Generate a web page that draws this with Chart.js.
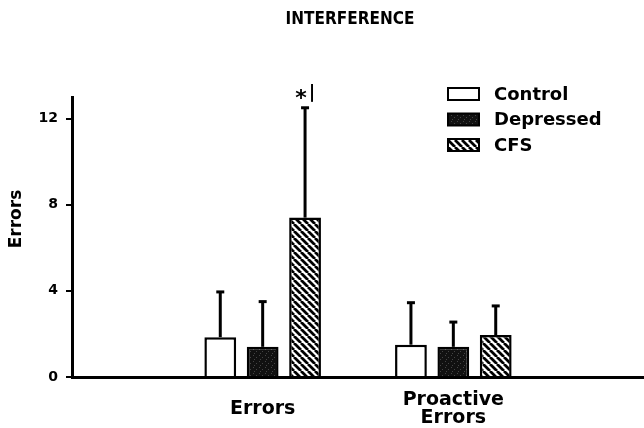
<!DOCTYPE html>
<html>
<head>
<meta charset="utf-8">
<script src="https://cdn.jsdelivr.net/npm/chart.js@4.4.0/dist/chart.umd.min.js"></script>
<style>
  html, body { margin: 0; padding: 0; background: #fff; }
  #wrap { width: 644px; height: 428px; position: relative; overflow: hidden; }
</style>
</head>
<body>
<div id="wrap"><canvas id="interferenceChart" width="644" height="428"></canvas></div>
<script>
// categories (the outer slots are left empty in the original figure)
const categories = ['', 'Errors', ['Proactive', 'Errors'], ''];
const groupNames = ['Control', 'Depressed', 'CFS'];

// means
const controlMeans = [null, 1.85, 1.5, null];
const depressedMeans = [null, 1.4, 1.4, null];
const cfsMeans = [null, 7.4, 1.95, null];

// upper error (SD)
const controlErr = [null, 2.1, 1.95, null];
const depressedErr = [null, 2.1, 1.15, null];
const cfsErr = [null, 5.1, 1.35, null];

const yTicks = [0, 4, 8, 12];

const FONT = '"DejaVu Sans", sans-serif';

// fill patterns
function makeStripes() {
  const c = document.createElement('canvas');
  c.width = 7; c.height = 7;
  const g = c.getContext('2d');
  g.fillStyle = '#fff';
  g.fillRect(0, 0, 7, 7);
  g.strokeStyle = '#000';
  g.lineWidth = 2.8;
  g.beginPath();
  for (let k = -7; k <= 14; k += 7) {
    g.moveTo(k, 0);
    g.lineTo(k + 7, 7);
  }
  g.stroke();
  return g.createPattern(c, 'repeat');
}

function makeNoise() {
  const c = document.createElement('canvas');
  c.width = 6; c.height = 6;
  const g = c.getContext('2d');
  g.fillStyle = '#111';
  g.fillRect(0, 0, 6, 6);
  g.fillStyle = '#444';
  g.fillRect(1, 1, 1, 1);
  g.fillRect(4, 3, 1, 1);
  g.fillRect(2, 5, 1, 1);
  return g.createPattern(c, 'repeat');
}

const stripes = makeStripes();
const noise = makeNoise();

// draw error bars above each bar
const errorBars = {
  id: 'errorBars',
  afterDatasetsDraw(chart) {
    const ctx = chart.ctx;
    const y = chart.scales.y;
    chart.data.datasets.forEach((ds, i) => {
      const meta = chart.getDatasetMeta(i);
      meta.data.forEach((bar, j) => {
        if (ds.data[j] == null) return;
        const top = y.getPixelForValue(ds.data[j] + ds.err[j]);
        ctx.save();
        ctx.strokeStyle = '#000';
        ctx.lineWidth = 3;
        ctx.beginPath();
        ctx.moveTo(bar.x, bar.y);
        ctx.lineTo(bar.x, top);
        ctx.stroke();
        ctx.lineWidth = 3;
        ctx.beginPath();
        ctx.moveTo(bar.x - 4, top);
        ctx.lineTo(bar.x + 4, top);
        ctx.stroke();
        ctx.restore();
      });
    });
    // significance mark above CFS errors
    const cfsBar = chart.getDatasetMeta(2).data[1];
    const t = y.getPixelForValue(cfsMeans[1] + cfsErr[1]);
    ctx.save();
    ctx.fillStyle = '#000';
    ctx.textAlign = 'center';
    ctx.textBaseline = 'middle';
    ctx.font = 'bold 22px ' + FONT;
    ctx.fillText('*', cfsBar.x - 4, t - 8);
    ctx.font = 'bold 18px ' + FONT;
    ctx.fillText('|', cfsBar.x + 7, t - 14);
    ctx.restore();
  }
};

// title, y-axis title and legend
const labelsAndLegend = {
  id: 'labelsAndLegend',
  afterDraw(chart) {
    const ctx = chart.ctx;
    ctx.save();
    ctx.fillStyle = '#000';
    ctx.textAlign = 'center';
    ctx.textBaseline = 'middle';
    ctx.font = 'bold 17px "DejaVu Sans Condensed", ' + FONT;
    ctx.fillText('INTERFERENCE', 350, 20);

    ctx.save();
    ctx.translate(17, 219);
    ctx.rotate(-Math.PI / 2);
    ctx.font = 'bold 17px ' + FONT;
    ctx.fillText('Errors', 0, 0);
    ctx.restore();

    chart.data.datasets.forEach((ds, i) => {
      const yc = 94 + i * 25.5;
      ctx.fillStyle = ds.backgroundColor;
      ctx.fillRect(448, yc - 6, 31, 12);
      ctx.strokeStyle = '#000';
      ctx.lineWidth = 2;
      ctx.strokeRect(448, yc - 6, 31, 12);
      ctx.fillStyle = '#000';
      ctx.font = 'bold 18px ' + FONT;
      ctx.textAlign = 'left';
      ctx.fillText(ds.label, 494, yc + 1);
    });
    ctx.restore();
  }
};

new Chart(document.getElementById('interferenceChart'), {
  type: 'bar',
  data: {
    labels: categories,
    datasets: [
      { label: groupNames[0], data: controlMeans, err: controlErr, backgroundColor: '#fff' },
      { label: groupNames[1], data: depressedMeans, err: depressedErr, backgroundColor: noise },
      { label: groupNames[2], data: cfsMeans, err: cfsErr, backgroundColor: stripes }
    ]
  },
  options: {
    responsive: false,
    animation: false,
    layout: { padding: { top: 97, right: -6, left: 0, bottom: 0 } },
    datasets: {
      bar: {
        borderColor: '#000',
        borderWidth: 2.5,
        categoryPercentage: 0.667,
        barPercentage: 0.75
      }
    },
    plugins: {
      legend: { display: false },
      tooltip: { enabled: false },
      title: { display: false }
    },
    scales: {
      x: {
        offset: false,
        grid: { display: false },
        border: { color: '#000', width: 3 },
        ticks: {
          color: '#000',
          font: { family: FONT, size: 19, weight: 'bold', lineHeight: 0.95 },
          maxRotation: 0,
          autoSkip: false,
          crossAlign: 'center',
          padding: 15
        },
        afterFit(s) {
          s.height = 51;
          s.paddingLeft = 0;
          s.paddingRight = 0;
        }
      },
      y: {
        min: 0,
        max: 13,
        afterBuildTicks(s) { s.ticks = yTicks.map(v => ({ value: v })); },
        grid: { drawOnChartArea: false, drawTicks: true, tickLength: 6, color: '#000', lineWidth: 2 },
        border: { color: '#000', width: 3 },
        ticks: {
          color: '#000',
          font: { family: FONT, size: 14, weight: 'bold' },
          padding: 8
        },
        afterFit(s) { s.width = 72; }
      }
    }
  },
  plugins: [errorBars, labelsAndLegend]
});
</script>
</body>
</html>
